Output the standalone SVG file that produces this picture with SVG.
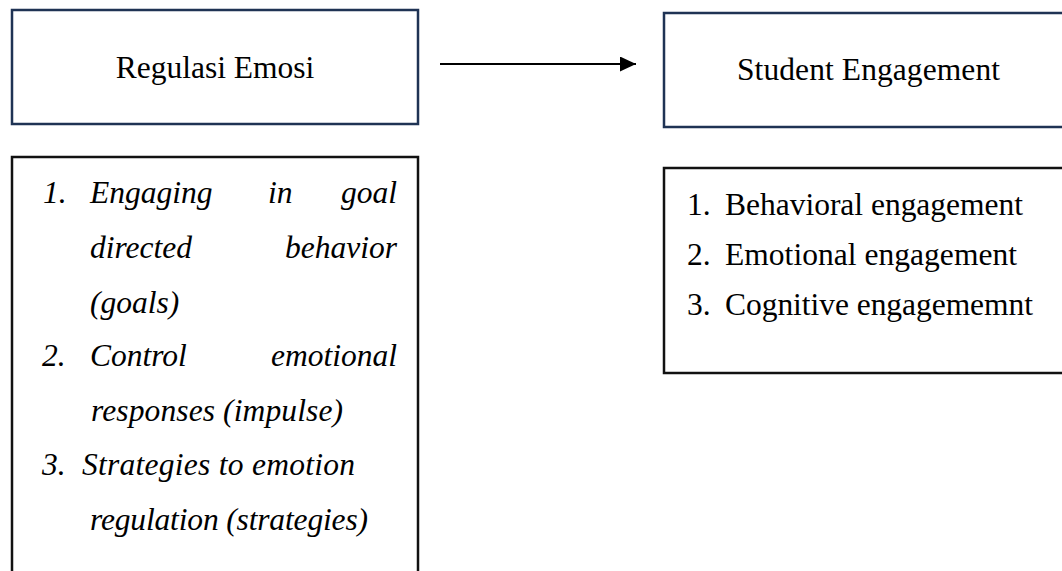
<svg xmlns="http://www.w3.org/2000/svg" width="1062" height="571" viewBox="0 0 1062 571">
<style>
.navy{fill:#fff;stroke:#1f3354;stroke-width:2.5}
.blk{fill:#fff;stroke:#111;stroke-width:2.5}
.t{font-family:"Liberation Serif","Times New Roman",serif;font-size:31.5px;fill:#000}
.i{font-family:"Liberation Serif","Times New Roman",serif;font-size:31.5px;font-style:italic;fill:#000}
.e{text-anchor:end}
.m{text-anchor:middle}
</style>
<defs>
<marker id="ah" viewBox="0 0 16 15" refX="16" refY="7.5" markerWidth="16" markerHeight="15" markerUnits="userSpaceOnUse" orient="auto">
<path d="M0,0 L16,7.5 L0,15 z" fill="#000"/>
</marker>
</defs>
<rect width="1062" height="571" fill="#fff"/>
<g id="node-regulasi">
<rect class="navy" x="12" y="10" width="406" height="114"/>
<text class="t m" x="215" y="78">Regulasi Emosi</text>
</g>
<g id="node-student">
<rect class="navy" x="664" y="13" width="410" height="114"/>
<text class="t" x="737" y="80" textLength="263" lengthAdjust="spacing">Student Engagement</text>
</g>
<g id="node-regulasi-list">
<rect class="blk" x="12" y="157" width="406" height="430"/>
<text class="i" x="43" y="203">1.</text>
<text class="i" x="90" y="203">Engaging</text>
<text class="i" x="268" y="203">in</text>
<text class="i e" x="397" y="203">goal</text>
<text class="i" x="90" y="258">directed</text>
<text class="i e" x="397" y="258">behavior</text>
<text class="i" x="90" y="313">(goals)</text>
<text class="i" x="42" y="366">2.</text>
<text class="i" x="90" y="366">Control</text>
<text class="i e" x="397" y="366">emotional</text>
<text class="i" x="91" y="421" textLength="252" lengthAdjust="spacing">responses (impulse)</text>
<text class="i" x="42" y="475">3.</text>
<text class="i" x="82" y="475" textLength="273" lengthAdjust="spacing">Strategies to emotion</text>
<text class="i" x="90" y="530" textLength="278" lengthAdjust="spacing">regulation (strategies)</text>
</g>
<g id="node-student-list">
<rect class="blk" x="664" y="168" width="410" height="205"/>
<text class="t" x="687" y="215">1.</text>
<text class="t" x="725" y="215" textLength="298" lengthAdjust="spacing">Behavioral engagement</text>
<text class="t" x="687" y="265">2.</text>
<text class="t" x="725" y="265" textLength="292" lengthAdjust="spacing">Emotional engagement</text>
<text class="t" x="687" y="315">3.</text>
<text class="t" x="725" y="315" textLength="308" lengthAdjust="spacing">Cognitive engagememnt</text>
</g>
<g id="connectors">
<line x1="440" y1="64" x2="636" y2="64" stroke="#000" stroke-width="2" marker-end="url(#ah)"/>
</g>
</svg>
